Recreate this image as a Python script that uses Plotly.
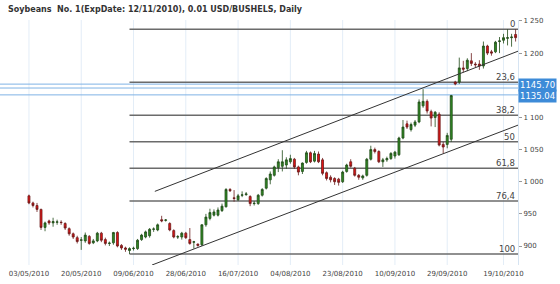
import plotly.graph_objects as go
import pandas as pd

# ---------------- data ----------------
title_text = "Soybeans  No. 1(ExpDate: 12/11/2010), 0.01 USD/BUSHELS, Daily"
holidays = ["2010-05-31", "2010-07-05", "2010-09-06"]
start_date = "2010-05-03"

opens = [978, 967, 963, 957, 929, 939, 936, 937, 937, 935, 927, 919, 913, 909, 908, 915, 905, 908, 920, 910,
         904, 905, 921, 901, 897, 893, 896, 896, 910, 914, 916, 926, 925, 941, 940, 935, 924, 914, 914, 920,
         910, 906, 903, 902, 933, 943, 948, 948, 955, 961, 988, 975, 972, 979, 980, 977, 966, 966, 979, 990,
         1003, 1010, 1022, 1024, 1026, 1031, 1035, 1023, 1016, 1030, 1045, 1032, 1043, 1034, 1014, 1007, 1005, 1004, 1000, 1016,
         1031, 1021, 1010, 1006, 1010, 1035, 1050, 1047, 1031, 1034, 1036, 1040, 1042, 1068, 1090, 1081, 1088, 1093, 1118, 1125,
         1109, 1100, 1105, 1058, 1058, 1066, 1155, 1155, 1177, 1176, 1188, 1183, 1183, 1180, 1211, 1202, 1202, 1218, 1220, 1223,
         1224, 1229]
highs = [980, 969, 967, 958, 938, 941, 944, 941, 940, 937, 929, 921, 916, 914, 921, 917, 911, 922, 922, 913,
         907, 922, 923, 903, 899, 898, 899, 911, 919, 924, 928, 929, 935, 947, 942, 937, 926, 917, 922, 922,
         928, 908, 904, 934, 950, 958, 957, 960, 966, 990, 990, 987, 981, 985, 984, 979, 970, 981, 990, 1007,
         1016, 1025, 1035, 1049, 1038, 1042, 1037, 1025, 1030, 1048, 1047, 1048, 1047, 1037, 1016, 1010, 1007, 1006, 1017, 1028,
         1035, 1023, 1012, 1011, 1037, 1056, 1053, 1049, 1037, 1039, 1046, 1048, 1070, 1096, 1095, 1092, 1096, 1128, 1144, 1128,
         1112, 1110, 1108, 1062, 1076, 1135, 1157, 1193, 1188, 1192, 1200, 1186, 1189, 1218, 1213, 1205, 1219, 1225, 1230, 1237,
         1230, 1237]
lows = [965, 960, 953, 925, 923, 933, 930, 933, 933, 925, 916, 911, 904, 894, 905, 902, 903, 906, 906, 901,
        900, 902, 898, 894, 891, 887.6, 893, 894, 908, 912, 913, 922, 923, 937, 938, 923, 912, 911, 910, 911,
        902, 896, 899, 900, 930, 940, 946, 946, 953, 960, 984, 969, 970, 976, 978, 962, 963, 964, 977, 988,
        996, 1008, 1015, 1016, 1020, 1028, 1020, 1010, 1012, 1028, 1029, 1030, 1029, 1010, 1002, 999, 995, 994, 998, 1014,
        1022, 1008, 1003, 1003, 1008, 1033, 1044, 1029, 1023, 1031, 1034, 1036, 1040, 1066, 1082, 1078, 1085, 1091, 1115, 1106,
        1086, 1085, 1055, 1044, 1052, 1062, 1150, 1152, 1170, 1172, 1180, 1178, 1174, 1176, 1197, 1196, 1200, 1200, 1215, 1212,
        1210, 1218]
closes = [967, 963, 957, 929, 936, 936, 938, 937.5, 936.5, 928, 919, 914, 907, 909.5, 917, 904, 908, 920, 909, 904,
          904.5, 921, 900, 897, 895, 896, 896.5, 909, 917, 922, 926, 926.5, 933, 939, 940.5, 925, 914, 914.5, 920, 913,
          904, 906.5, 901, 933, 945, 952, 953, 956, 962, 988, 986, 974, 978, 979.5, 981, 966, 966.5, 979, 988, 1005,
          1012, 1023, 1031, 1031, 1034, 1036, 1023, 1015, 1029, 1045, 1031, 1044, 1031, 1013, 1005, 1003, 1000, 999, 1015, 1026,
          1024, 1010, 1007, 1009, 1035, 1050, 1047, 1031, 1034, 1036, 1044, 1046, 1068, 1085, 1085, 1089, 1093, 1124, 1125, 1110,
          1099, 1108, 1057, 1054, 1072, 1134, 1152, 1177, 1175, 1189, 1184, 1182, 1180, 1211, 1200, 1200, 1217, 1219, 1224, 1224,
          1225, 1224]

x_tick_labels = ["03/05/2010", "20/05/2010", "09/06/2010", "28/06/2010", "16/07/2010",
                 "04/08/2010", "23/08/2010", "10/09/2010", "29/09/2010", "19/10/2010"]
y_tick_vals = [900, 950, 1000, 1050, 1100, 1200, 1250]
y_tick_text = ["900", "950", "1 000", "1 050", "1 100", "1 200", "1 250"]

fib_pcts = [0, 23.6, 38.2, 50, 61.8, 76.4, 100]
fib_texts = ["0", "23,6", "38,2", "50", "61,8", "76,4", "100"]

price_lines = [1151.8, 1145.70, 1135.04]
price_labels = ["", "1145.70", "1135.04"]

channel_upper_x = [31.3, 121.6]
channel_upper_y = [985, 1203]
channel_lower_x = [30.6, 121.6]
channel_lower_y = [870.5, 1088]

x_range = [-7.2, 121.6]
y_range = [870.5, 1251.5]

# ---------------- build ----------------
dates = pd.bdate_range(start_date, periods=len(opens), freq="C", holidays=holidays)
date_labels = [d.strftime("%d/%m/%Y") for d in dates]
xs = list(range(len(opens)))
tick_vals = [date_labels.index(t) for t in x_tick_labels]

fig = go.Figure()

# vertical gridlines & blue price lines behind
shapes = []
for tv in tick_vals:
    shapes.append(dict(type="line", xref="x", yref="paper", x0=tv, x1=tv, y0=0, y1=1,
                       line=dict(color="#e3edf7", width=1), layer="below"))
for pl in price_lines:
    shapes.append(dict(type="line", xref="paper", yref="y", x0=0, x1=1, y0=pl, y1=pl,
                       line=dict(color="#7fb2e5", width=1), layer="below"))

fib_high = max(highs)
fib_low = min(lows)
anchor = lows.index(fib_low)
annotations = []
for pct, txt in zip(fib_pcts, fib_texts):
    lvl = fib_high - pct / 100.0 * (fib_high - fib_low)
    shapes.append(dict(type="line", xref="x", yref="y", x0=anchor, x1=x_range[1], y0=lvl, y1=lvl,
                       line=dict(color="#6b6b6b", width=1.5), layer="below"))
    annotations.append(dict(xref="paper", yref="y", x=1, y=lvl, text=txt, showarrow=False,
                            xanchor="right", yanchor="bottom", xshift=-1, yshift=-2,
                            font=dict(family="DejaVu Sans", size=8.5, color="#444444")))

fig.add_trace(go.Scatter(x=channel_upper_x, y=channel_upper_y, mode="lines",
                         line=dict(color="#333333", width=1), hoverinfo="skip", showlegend=False))
fig.add_trace(go.Scatter(x=channel_lower_x, y=channel_lower_y, mode="lines",
                         line=dict(color="#333333", width=1), hoverinfo="skip", showlegend=False))

fig.add_trace(go.Candlestick(
    x=xs, open=opens, high=highs, low=lows, close=closes, text=date_labels,
    increasing=dict(fillcolor="#2f8a22", line=dict(color="#1f4a18", width=0.8)),
    decreasing=dict(fillcolor="#e31414", line=dict(color="#6a1a1a", width=0.8)),
    whiskerwidth=0, showlegend=False))

for pl, lab in zip(price_lines, price_labels):
    if lab:
        annotations.append(dict(xref="paper", yref="y", x=1, y=pl, text=lab, showarrow=False,
                                xanchor="left", yanchor="middle", xshift=0,
                                yshift=3 if lab == "1145.70" else -1,
                                bgcolor="#3d8bd8", borderpad=1,
                                font=dict(family="DejaVu Sans", size=8.5, color="white")))

fig.update_layout(
    width=560, height=284,
    margin=dict(l=0, r=42, t=20, b=19),
    paper_bgcolor="white", plot_bgcolor="white",
    title=dict(text="<b>" + title_text + "</b>", x=8 / 560, xanchor="left", xref="container",
               y=1 - 9 / 284, yanchor="middle", yref="container",
               font=dict(family="DejaVu Sans", size=8, color="#333333")),
    shapes=shapes, annotations=annotations,
    xaxis=dict(range=x_range, rangeslider=dict(visible=False), showgrid=False, zeroline=False,
               tickmode="array", tickvals=tick_vals, ticktext=x_tick_labels, ticks="",
               ticklabelstandoff=3, tickfont=dict(family="DejaVu Sans", size=7, color="#444444")),
    yaxis=dict(range=y_range, side="right", showgrid=False, zeroline=False, showline=True,
               linecolor="#d6e4f2", linewidth=1, tickmode="array", tickvals=y_tick_vals,
               ticktext=y_tick_text, ticks="outside", ticklen=3, tickcolor="#999999",
               tickfont=dict(family="DejaVu Sans", size=7, color="#444444")),
    showlegend=False,
)

fig.write_html("out.html")
